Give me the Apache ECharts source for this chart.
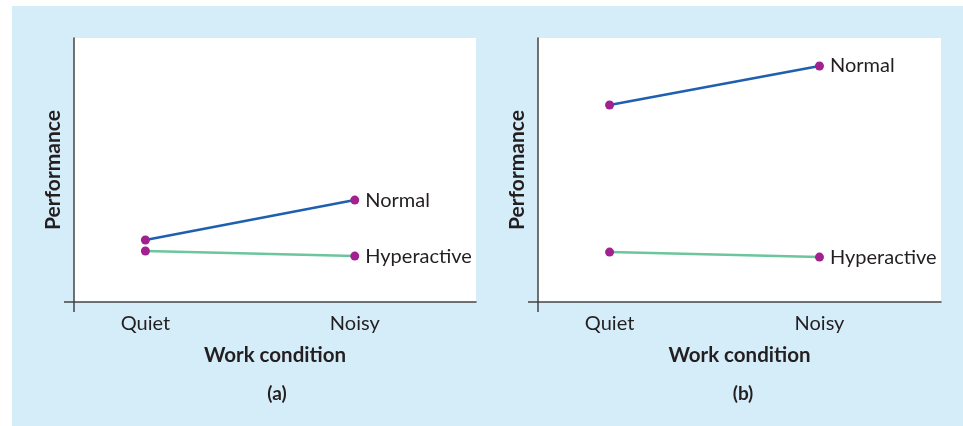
<!DOCTYPE html>
<html>
<head>
<meta charset="utf-8">
<script src="https://cdn.jsdelivr.net/npm/echarts@6/dist/echarts.min.js"></script>
<style>
html,body{margin:0;padding:0;background:#fff;width:963px;height:426px;overflow:hidden;}
#bg{position:absolute;left:12px;top:6px;right:0;bottom:0;background:#d5ecf9;}
#chart{position:absolute;left:0;top:0;width:963px;height:426px;}
</style>
</head>
<body>
<div id="bg"></div>
<div id="chart"></div>
<script>
var categories = ['Quiet', 'Noisy'];
var seriesNames = ['Normal', 'Hyperactive'];
var normalA = [23.5, 38.6];
var hyperA = [19.3, 17.4];
var normalB = [74.6, 89.4];
var hyperB = [18.9, 17.0];
var panelLabels = ['(a)', '(b)'];

var FONT = 'Lato, "Open Sans", sans-serif';
var blue = '#1f5fb0', green = '#6cc59b', dot = '#a0218f', ink = '#231f20', axisCol = '#444';

function mkData(vals) {
  return vals.map(function (v, i) {
    return {
      value: [i, v],
      label: { show: i === vals.length - 1 }
    };
  });
}
function mkSeries(name, vals, color, gi) {
  return {
    type: 'line', name: name, xAxisIndex: gi, yAxisIndex: gi,
    data: mkData(vals),
    symbol: 'circle', symbolSize: 9,
    itemStyle: { color: dot },
    lineStyle: { color: color, width: 2.5 },
    label: { position: 'right', distance: 6, formatter: name, color: ink, fontFamily: FONT, fontSize: 20 },
    emphasis: { disabled: true },
    animation: false
  };
}
var XMIN = -0.341, XMAX = 1.579;
function mkX(gi) {
  return {
    type: 'value', gridIndex: gi, min: XMIN, max: XMAX,
    axisLine: { show: true, onZero: false, lineStyle: { color: axisCol, width: 1.5 } },
    axisTick: { show: true, customValues: [XMIN], length: 10, inside: false, lineStyle: { color: axisCol, width: 1.5 } },
    axisLabel: { show: true, customValues: [0, 1], formatter: function (v) { return categories[Math.round(v)]; },
      color: ink, fontFamily: FONT, fontSize: 20, margin: 12 },
    splitLine: { show: false },
    name: 'Work condition', nameLocation: 'middle', nameGap: 43,
    nameTextStyle: { color: ink, fontFamily: FONT, fontSize: 20.5, fontWeight: 'bold' }
  };
}
function mkY(gi) {
  return {
    type: 'value', gridIndex: gi, min: 0, max: 100,
    axisLine: { show: true, onZero: false, lineStyle: { color: axisCol, width: 1.5 } },
    axisTick: { show: true, customValues: [0], length: 10, lineStyle: { color: axisCol, width: 1.5 } },
    axisLabel: { show: false },
    splitLine: { show: false },
    name: 'Performance', nameLocation: 'middle', nameGap: 10, nameRotate: 90,
    nameTextStyle: { color: ink, fontFamily: FONT, fontSize: 21, fontWeight: 'bold' }
  };
}
var chart = echarts.init(document.getElementById('chart'), null, { renderer: 'canvas' });
chart.setOption({
  backgroundColor: 'transparent',
  animation: false,
  title: [
    { text: panelLabels[0], left: 272, top: 379, textAlign: 'center', textStyle: { color: ink, fontFamily: FONT, fontSize: 19, fontWeight: 'bold' } },
    { text: panelLabels[1], left: 738, top: 379, textAlign: 'center', textStyle: { color: ink, fontFamily: FONT, fontSize: 19, fontWeight: 'bold' } }
  ],
  grid: [
    { left: 74, top: 38, width: 402, height: 264, show: true, backgroundColor: '#fff', borderWidth: 0 },
    { left: 538, top: 38, width: 403, height: 264, show: true, backgroundColor: '#fff', borderWidth: 0 }
  ],
  xAxis: [mkX(0), mkX(1)],
  yAxis: [mkY(0), mkY(1)],
  series: [
    mkSeries(seriesNames[0], normalA, blue, 0),
    mkSeries(seriesNames[1], hyperA, green, 0),
    mkSeries(seriesNames[0], normalB, blue, 1),
    mkSeries(seriesNames[1], hyperB, green, 1)
  ]
});
</script>
</body>
</html>
